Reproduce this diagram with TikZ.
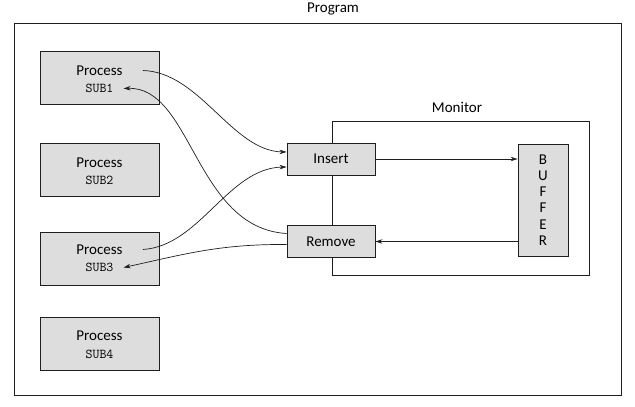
\documentclass[tikz,border=0pt]{standalone}
\usepackage{fontspec}
\setmainfont{Carlito}
\usetikzlibrary{arrows.meta}
\definecolor{boxgray}{RGB}{221,221,221}
\definecolor{linecol}{RGB}{30,30,30}
\tikzset{
  procbox/.style={draw=linecol, line width=0.9pt, fill=boxgray, minimum width=119pt, minimum height=53pt, inner sep=0pt},
  opbox/.style={draw=linecol, line width=0.9pt, fill=boxgray, minimum width=88pt, minimum height=32pt, inner sep=0pt, font=\fontsize{15}{17}\selectfont},
  lbl/.style={inner sep=0pt, font=\fontsize{15}{17}\selectfont},
  mono/.style={inner sep=0pt, font=\ttfamily\fontsize{13.5}{15}\selectfont},
  frame/.style={draw=linecol, line width=1pt},
  conn/.style={draw=linecol, line width=0.7pt, -{Stealth[length=7pt,width=4.5pt]}}
}
\begin{document}
\begin{tikzpicture}[x=1pt,y=-1pt]
\useasboundingbox (0,0) rectangle (635,407);
% outer program frame
\draw[frame] (14,23) rectangle (621,395);
\node[lbl] (proglbl) at (333,9) {Program};
% monitor frame
\draw[frame] (332,121) rectangle (589,275);
\node[lbl] (monlbl) at (457,107) {Monitor};
% process boxes
\node[procbox] (p1) at (99.5,77.5) {};
\node[lbl] (p1a) at (99.5,70.5) {Process};
\node[mono] (p1b) at (99.5,88.5) {SUB1};
\node[procbox] (p2) at (99.5,169.5) {};
\node[lbl] (p2a) at (99.5,162.5) {Process};
\node[mono] (p2b) at (99.5,180.5) {SUB2};
\node[procbox] (p3) at (99.5,258.5) {};
\node[lbl] (p3a) at (99.5,249.5) {Process};
\node[mono] (p3b) at (99.5,267.5) {SUB3};
\node[procbox] (p4) at (99.5,344) {};
\node[lbl] (p4a) at (99.5,336) {Process};
\node[mono] (p4b) at (99.5,354) {SUB4};
% monitor operations
\node[opbox] (ins) at (331,159) {Insert};
\node[opbox] (rem) at (331,241.5) {Remove};
\node[draw=linecol, line width=0.9pt, fill=boxgray, minimum width=50pt, minimum height=112pt, inner sep=0pt, align=center, font=\fontsize{15}{16.2}\selectfont] (buf) at (543,200) {B\\U\\F\\F\\E\\R};
% connector end points
\coordinate (p1o) at ([xshift=20pt]p1a.east);
\coordinate (p1i) at ([xshift=10pt]p1b.east);
\coordinate (p3o) at ([xshift=20pt]p3a.east);
\coordinate (p3i) at ([xshift=10pt]p3b.east);
\coordinate (insA) at ([yshift=7pt]ins.west);
\coordinate (insB) at ([yshift=-8pt]ins.west);
\coordinate (remA) at ([yshift=8pt]rem.west);
\coordinate (remB) at ([yshift=-3pt]rem.west);
\coordinate (bufA) at (buf.west |- ins.east);
\coordinate (bufB) at (buf.west |- rem.east);
% connectors
\draw[conn] (p1o) .. controls (200,72) and (232,151) .. (insA);
\draw[conn] (remA) .. controls (195,228) and (192,86) .. (p1i);
\draw[conn] (p3o) .. controls (200,246) and (228,168) .. (insB);
\draw[conn] (remB) .. controls (220,244) and (185,254) .. (p3i);
\draw[conn] (ins.east) -- (bufA);
\draw[conn] (bufB) -- (rem.east);
\end{tikzpicture}
\end{document}
